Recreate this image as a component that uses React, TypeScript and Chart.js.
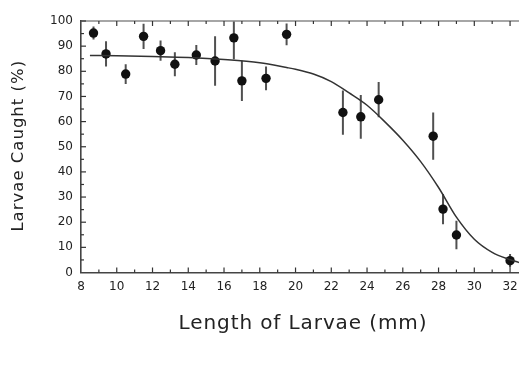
import React, { useEffect, useRef } from "react";
import { Chart, registerables } from "chart.js";

Chart.register(...registerables);

// Measured points (length mm, % caught, half error bar)
const lengthMm = [8.7, 9.4, 10.5, 11.5, 12.45, 13.25, 14.45, 15.5, 16.55, 17.0, 18.35, 19.5, 22.65, 23.65, 24.65, 27.7, 28.25, 29.0, 32.0];
const caughtPct = [95.2, 86.9, 78.9, 93.9, 88.2, 82.8, 86.5, 84.1, 93.3, 76.2, 77.2, 94.7, 63.6, 61.9, 68.7, 54.2, 25.2, 14.9, 4.7];
const errorPct = [2.6, 5.0, 3.9, 5.0, 4.0, 4.8, 4.0, 9.8, 8.5, 8.0, 4.7, 4.3, 8.8, 8.7, 7.0, 9.4, 6.0, 5.7, 2.7];

// Fitted curve
const curveX = [8.5, 10, 12, 14, 16, 18, 19.5, 20, 21, 22, 23, 24, 25, 26, 27, 28, 29, 30, 31, 32, 32.5];
const curveY = [86.3, 86.2, 85.9, 85.5, 84.7, 83.4, 81.5, 80.8, 78.9, 75.9, 71.4, 66.5, 59.9, 52.6, 44.1, 33.8, 22.0, 13.2, 8.0, 5.1, 4.0];

const xTickLabels = [8, 10, 12, 14, 16, 18, 20, 22, 24, 26, 28, 30, 32];
const yTickLabels = [0, 10, 20, 30, 40, 50, 60, 70, 80, 90, 100];

const xTitle = "Length of Larvae (mm)";
const yTitle = "Larvae Caught (%)";

const FONT = "'DejaVu Sans', sans-serif";

const errorBars = {
  id: "errorBars",
  beforeDatasetsDraw(chart: any) {
    const { ctx, chartArea, scales } = chart;
    ctx.save();
    ctx.beginPath();
    ctx.rect(chartArea.left, chartArea.top, chartArea.right - chartArea.left, chartArea.bottom - chartArea.top);
    ctx.clip();
    ctx.strokeStyle = "#505050";
    ctx.lineWidth = 2;
    lengthMm.forEach((x, i) => {
      const px = scales.x.getPixelForValue(x);
      const y1 = scales.y.getPixelForValue(caughtPct[i] + errorPct[i]);
      const y2 = scales.y.getPixelForValue(caughtPct[i] - errorPct[i]);
      ctx.beginPath();
      ctx.moveTo(px, y1);
      ctx.lineTo(px, y2);
      ctx.stroke();
    });
    ctx.restore();
  },
};

const inwardTicks = {
  id: "inwardTicks",
  afterDraw(chart: any) {
    const { ctx, chartArea, scales } = chart;
    const { left, right, top, bottom } = chartArea;
    const line = (a: number, b: number, c: number, d: number) => {
      ctx.beginPath();
      ctx.moveTo(a, b);
      ctx.lineTo(c, d);
      ctx.stroke();
    };
    ctx.save();
    ctx.strokeStyle = "#888";
    ctx.lineWidth = 1.5;
    line(left, top, right, top);
    ctx.strokeStyle = "#333";
    ctx.lineWidth = 1.2;
    for (let v = 9; v <= 32; v++) {
      const px = scales.x.getPixelForValue(v);
      const len = v % 2 === 0 ? 5 : 3;
      line(px, bottom, px, bottom - len);
      line(px, top, px, top + len);
    }
    for (let v = 5; v <= 100; v += 5) {
      const py = scales.y.getPixelForValue(v);
      const len = v % 10 === 0 ? 5 : 3;
      line(left, py, left + len, py);
    }
    // x tick labels
    ctx.fillStyle = "#222";
    ctx.font = `12px ${FONT}`;
    ctx.textAlign = "center";
    ctx.textBaseline = "middle";
    xTickLabels.forEach((v) => {
      ctx.fillText(String(v), scales.x.getPixelForValue(v), bottom + 14);
    });
    ctx.restore();
  },
};

const axisTitles = {
  id: "axisTitles",
  afterDraw(chart: any) {
    const { ctx, chartArea } = chart;
    ctx.save();
    ctx.fillStyle = "#222";
    ctx.textAlign = "center";
    ctx.textBaseline = "middle";
    ctx.font = `20px ${FONT}`;
    (ctx as any).letterSpacing = "0.9px";
    ctx.fillText(xTitle, (chartArea.left + chartArea.right) / 2 + 3, chartArea.bottom + 51);
    ctx.font = `16.5px ${FONT}`;
    (ctx as any).letterSpacing = "1px";
    ctx.translate(19, (chartArea.top + chartArea.bottom) / 2 - 1);
    ctx.rotate(-Math.PI / 2);
    ctx.fillText(yTitle, 0, 0);
    ctx.restore();
  },
};

export default function App() {
  const ref = useRef<HTMLCanvasElement>(null);
  useEffect(() => {
    document.body.style.margin = "0";
    const chart = new Chart(ref.current as HTMLCanvasElement, {
      type: "scatter",
      data: {
        datasets: [
          {
            type: "line",
            data: curveX.map((x, i) => ({ x, y: curveY[i] })),
            borderColor: "#333",
            borderWidth: 1.5,
            pointRadius: 0,
            cubicInterpolationMode: "monotone",
            fill: false,
          } as any,
          {
            data: lengthMm.map((x, i) => ({ x, y: caughtPct[i] })),
            backgroundColor: "#111",
            borderWidth: 0,
            pointRadius: 4.7,
          },
        ],
      },
      options: {
        animation: false,
        responsive: false,
        layout: { autoPadding: false, padding: { top: 21, right: 0, left: 0, bottom: 0 } },
        plugins: { legend: { display: false }, tooltip: { enabled: false } },
        scales: {
          x: {
            type: "linear",
            min: 8,
            max: 32.5,
            afterBuildTicks: (s: any) => {
              s.ticks = xTickLabels.map((v) => ({ value: v }));
            },
            afterFit: (s: any) => {
              s.height = 92.5;
            },
            grid: { drawOnChartArea: false, drawTicks: false },
            border: { display: true, color: "#444", width: 1.6 },
            ticks: { display: false },
          },
          y: {
            type: "linear",
            min: 0,
            max: 100,
            afterBuildTicks: (s: any) => {
              s.ticks = yTickLabels.map((v) => ({ value: v }));
            },
            afterFit: (s: any) => {
              s.width = 81;
              s.paddingTop = 0;
              s.paddingBottom = 0;
            },
            grid: { drawOnChartArea: false, drawTicks: false },
            border: { display: true, color: "#444", width: 1.6 },
            ticks: { color: "#222", font: { family: FONT, size: 12 }, padding: 8 },
          },
        },
      },
      plugins: [errorBars, inwardTicks, axisTitles],
    });
    return () => chart.destroy();
  }, []);
  return <canvas ref={ref} width={519} height={365} style={{ display: "block" }} />;
}
